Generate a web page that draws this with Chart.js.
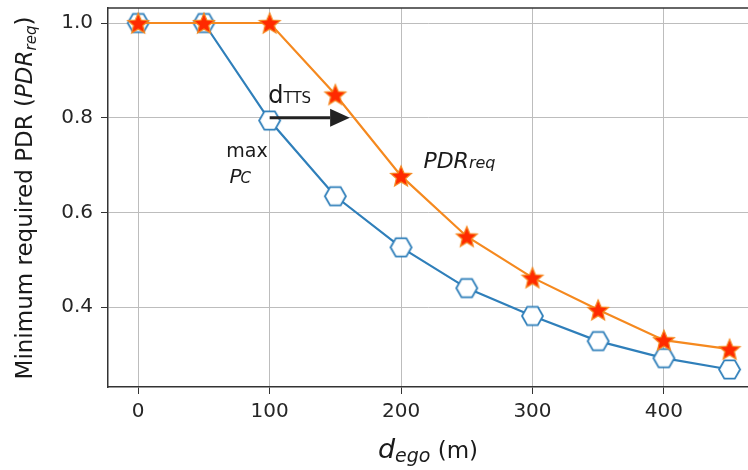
<!DOCTYPE html>
<html>
<head>
<meta charset="utf-8">
<script src="https://cdn.jsdelivr.net/npm/chart.js@4/dist/chart.umd.min.js"></script>
<style>
html,body{margin:0;padding:0;background:#fff;overflow:hidden;}
#wrap{width:748px;height:470px;position:relative;}
</style>
</head>
<body>
<div id="wrap"><canvas id="c" width="748" height="470"></canvas></div>
<script>
// ---- data ----
const distances = [0, 50, 100, 150, 200, 250, 300, 350, 400, 450];
const maxPc = [1.0, 1.0, 0.794, 0.634, 0.526, 0.44, 0.381, 0.328, 0.292, 0.268];
const pdrReq = [1.0, 1.0, 1.0, 0.849, 0.677, 0.549, 0.462, 0.394, 0.330, 0.311];
const xTicks = [0, 100, 200, 300, 400];
const yTicks = [0.4, 0.6, 0.8, 1.0];

const FONT = '"DejaVu Sans", sans-serif';
const BLUE = '#2f7fba';
const ORANGE = '#f5891f';

function makeHexagon(r, stroke) {
  const s = Math.ceil(r * 2 + 4);
  const cv = document.createElement('canvas');
  cv.width = s; cv.height = s;
  const g = cv.getContext('2d');
  g.beginPath();
  for (let i = 0; i < 6; i++) {
    const a = Math.PI / 3 * i;
    const px = s / 2 + r * Math.cos(a), py = s / 2 + r * Math.sin(a);
    i ? g.lineTo(px, py) : g.moveTo(px, py);
  }
  g.closePath();
  g.fillStyle = '#fff'; g.fill();
  g.lineWidth = 1.8; g.strokeStyle = stroke; g.stroke();
  return cv;
}
function makeStar(r, fill, stroke) {
  const s = Math.ceil(r * 2 + 4);
  const cv = document.createElement('canvas');
  cv.width = s; cv.height = s;
  const g = cv.getContext('2d');
  g.beginPath();
  for (let i = 0; i < 10; i++) {
    const rr = i % 2 ? r * 0.45 : r;
    const a = -Math.PI / 2 + Math.PI / 5 * i;
    const px = s / 2 + rr * Math.cos(a), py = s / 2 + 1 + rr * Math.sin(a);
    i ? g.lineTo(px, py) : g.moveTo(px, py);
  }
  g.closePath();
  g.fillStyle = fill; g.fill();
  g.lineWidth = 1.2; g.strokeStyle = stroke; g.stroke();
  return cv;
}
const hexImg = makeHexagon(10.5, BLUE);
const starImg = makeStar(11, '#ff2a00', ORANGE);

function drawRuns(ctx, runs, x, y, align) {
  let total = 0;
  runs.forEach(r => { ctx.font = r.font; r.w = ctx.measureText(r.text).width + (r.gap || 0); total += r.w; });
  let cx = align === 'center' ? x - total / 2 : x;
  runs.forEach(r => {
    ctx.font = r.font;
    ctx.textAlign = 'left';
    ctx.textBaseline = 'alphabetic';
    ctx.fillText(r.text, cx + (r.gap || 0), y + (r.dy || 0));
    cx += r.w;
  });
}

const extras = {
  id: 'extras',
  afterDraw(chart) {
    const ctx = chart.ctx, ca = chart.chartArea;
    const xs = chart.scales.x, ys = chart.scales.y;
    ctx.save();
    // top spine
    ctx.strokeStyle = '#333'; ctx.lineWidth = 1.5;
    ctx.beginPath(); ctx.moveTo(ca.left, ca.top); ctx.lineTo(ca.right, ca.top); ctx.stroke();
    ctx.fillStyle = '#222';
    // arrow d_TTS
    const ay = ys.getPixelForValue(0.8);
    const ax0 = xs.getPixelForValue(100), ax1 = xs.getPixelForValue(161);
    const hb = xs.getPixelForValue(146);
    ctx.strokeStyle = '#222'; ctx.lineWidth = 3;
    ctx.beginPath(); ctx.moveTo(ax0, ay); ctx.lineTo(hb, ay); ctx.stroke();
    ctx.beginPath(); ctx.moveTo(ax1, ay); ctx.lineTo(hb, ay - 9); ctx.lineTo(hb, ay + 9); ctx.closePath(); ctx.fill();
    ctx.fillStyle = '#1a1a1a';
    drawRuns(ctx, [
      {text: 'd', font: '24px ' + FONT},
      {text: 'TTS', font: '15px ' + FONT}
    ], xs.getPixelForValue(99), ys.getPixelForValue(0.832), 'left');
    drawRuns(ctx, [{text: 'max', font: '19px ' + FONT}], xs.getPixelForValue(67), ys.getPixelForValue(0.716), 'left');
    drawRuns(ctx, [
      {text: 'P', font: 'italic 20px ' + FONT},
      {text: 'C', font: 'italic 15px ' + FONT, gap: -1}
    ], xs.getPixelForValue(69.5), ys.getPixelForValue(0.663), 'left');
    drawRuns(ctx, [
      {text: 'PDR', font: 'italic 22px ' + FONT},
      {text: 'req', font: 'italic 16px ' + FONT}
    ], xs.getPixelForValue(217), ys.getPixelForValue(0.693), 'left');
    // x title
    drawRuns(ctx, [
      {text: 'd', font: 'italic 27px ' + FONT},
      {text: 'ego', font: 'italic 19px ' + FONT, dy: 4},
      {text: ' (m)', font: '23px ' + FONT}
    ], 428, 458, 'center');
    // y title (rotated)
    ctx.translate(32, 198);
    ctx.rotate(-Math.PI / 2);
    drawRuns(ctx, [
      {text: 'Minimum required PDR (', font: '23px ' + FONT},
      {text: 'PDR', font: 'italic 23px ' + FONT},
      {text: 'req', font: 'italic 15px ' + FONT, dy: 4},
      {text: ')', font: '23px ' + FONT}
    ], 0, 0, 'center');
    ctx.restore();
  }
};

const toPts = (ys) => distances.map((d, i) => ({x: d, y: ys[i]}));

new Chart(document.getElementById('c'), {
  type: 'line',
  data: {
    datasets: [
      {label: 'max Pc', data: toPts(maxPc), borderColor: BLUE, borderWidth: 2.2,
       pointStyle: hexImg, order: 1, clip: false, tension: 0},
      {label: 'PDRreq', data: toPts(pdrReq), borderColor: ORANGE, borderWidth: 2.2,
       pointStyle: starImg, order: 0, clip: false, tension: 0}
    ]
  },
  options: {
    responsive: false,
    animation: false,
    devicePixelRatio: 1,
    layout: {autoPadding: false, padding: {left: 0, top: 8, right: 0, bottom: 0}},
    plugins: {legend: {display: false}, tooltip: {enabled: false}},
    scales: {
      x: {
        type: 'linear', min: -23, max: 464,
        afterBuildTicks: s => { s.ticks = xTicks.map(v => ({value: v})); },
        afterFit: s => { s.height = 83; s.paddingLeft = 0; s.paddingRight = 0; s.paddingTop = 0; s.paddingBottom = 0; },
        grid: {color: '#bdbdbd', lineWidth: 1, tickColor: '#333', tickLength: 7},
        border: {display: true, color: '#333', width: 1.5},
        ticks: {font: {family: FONT, size: 20}, color: '#262626', padding: 6, maxRotation: 0}
      },
      y: {
        type: 'linear', min: 0.231, max: 1.0317,
        afterBuildTicks: s => { s.ticks = yTicks.map(v => ({value: v})); },
        afterFit: s => { s.width = 108; s.paddingTop = 0; s.paddingBottom = 0; s.paddingLeft = 0; s.paddingRight = 0; },
        grid: {color: '#bdbdbd', lineWidth: 1, tickColor: '#333', tickLength: 7},
        border: {display: true, color: '#333', width: 1.5},
        ticks: {font: {family: FONT, size: 20}, color: '#262626', padding: 8,
                callback: v => v.toFixed(1)}
      }
    }
  },
  plugins: [extras]
});
</script>
</body>
</html>
